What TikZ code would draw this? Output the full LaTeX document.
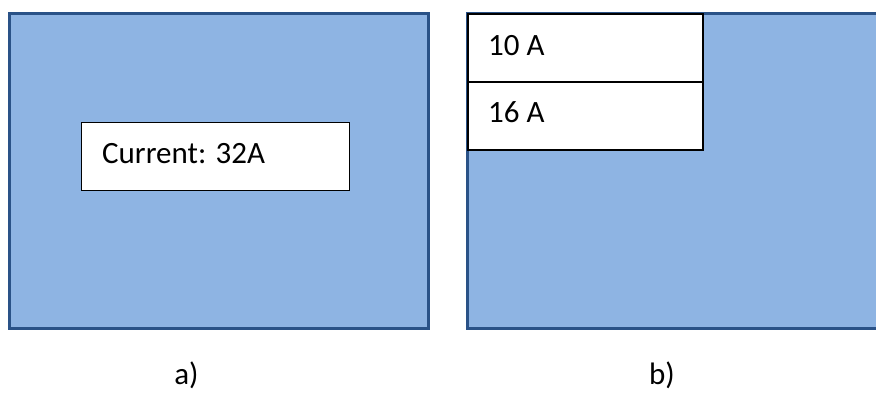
\documentclass[tikz,border=0pt]{standalone}
\usepackage{fontspec}
\setmainfont{Carlito}
\definecolor{panelfill}{HTML}{8EB4E3}
\definecolor{panelline}{HTML}{2A5287}
\tikzset{
  panel/.style={fill=panelfill, draw=panelline, line width=2.6pt},
  whitebox/.style={fill=white, draw=black, line width=1.6pt, inner sep=0pt},
  lbl/.style={font=\fontsize{31}{36}\selectfont, anchor=base west, inner sep=0pt},
  captext/.style={font=\fontsize{31}{36}\selectfont, anchor=base, inner sep=0pt}
}
\begin{document}
\begin{tikzpicture}[x=1pt,y=-1pt]
\useasboundingbox (0,0) rectangle (876,392);
\clip (0,0) rectangle (876,392);
% panel a
\draw[panel] (9.5,13.5) rectangle (428.5,328.5);
\node[whitebox, minimum width=268, minimum height=68, anchor=north west] (cur) at (80.5,121.5) {};
\node[lbl] (curtxt) at (102,163) {Current: 32A};
% panel b
\draw[panel] (467.5,13.5) rectangle (890,328.5);
\node[whitebox, minimum width=235, minimum height=68, anchor=north west] (b10) at (467,13) {};
\node[whitebox, minimum width=235, minimum height=68, anchor=north west] (b16) at (467,81) {};
\node[lbl] at (488,55) {10 A};
\node[lbl] at (488,122) {16 A};
% captions
\node[captext] (capa) at (186.5,384) {a)};
\node[captext] (capb) at (662,384) {b)};
\end{tikzpicture}
\end{document}
